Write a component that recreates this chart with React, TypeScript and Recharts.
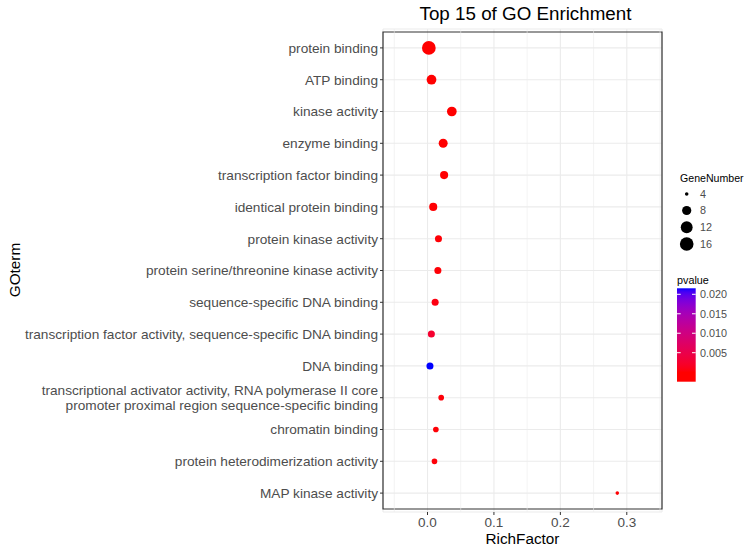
import React from 'react';
import {
  ScatterChart,
  Scatter,
  XAxis,
  YAxis,
  ZAxis,
  CartesianGrid,
  Cell,
  ReferenceLine,
  ReferenceArea,
} from 'recharts';

const terms = [
  'protein binding',
  'ATP binding',
  'kinase activity',
  'enzyme binding',
  'transcription factor binding',
  'identical protein binding',
  'protein kinase activity',
  'protein serine/threonine kinase activity',
  'sequence-specific DNA binding',
  'transcription factor activity, sequence-specific DNA binding',
  'DNA binding',
  'transcriptional activator activity, RNA polymerase II core\npromoter proximal region sequence-specific binding',
  'chromatin binding',
  'protein heterodimerization activity',
  'MAP kinase activity',
];
const richFactor = [0.002, 0.006, 0.0366, 0.0236, 0.025, 0.0086, 0.0165, 0.0156, 0.0115, 0.0058, 0.0037, 0.0206, 0.0126, 0.0105, 0.2857];
const geneNumber = [17, 9, 9, 8, 7, 7, 6, 6, 6, 6, 6, 5, 5, 5, 4];
const pValue = [1e-9, 2e-5, 1e-5, 4e-5, 6e-5, 1e-4, 2e-4, 2e-4, 6e-4, 0.0025, 0.0215, 3e-4, 2e-4, 3e-4, 1e-4];

const xTicks = [0, 0.1, 0.2, 0.3];
const xMinorTicks = [-0.05, 0.05, 0.15, 0.25, 0.35];
const xDomain: [number, number] = [-0.067, 0.353];
const sizeLegendValues = [4, 8, 12, 16];
const pLegendTicks = [0.02, 0.015, 0.01, 0.005];
const zDomain: [number, number] = [4, 16];
const zRange: [number, number] = [10, 147];

const data = terms.map((t, i) => ({ term: t, rich: richFactor[i], genes: geneNumber[i], p: pValue[i] }));

// ---- colour scale: red (low) -> blue (high), interpolated in Lab ----
const toLin = (c: number) => {
  const v = c / 255;
  return v <= 0.04045 ? v / 12.92 : Math.pow((v + 0.055) / 1.055, 2.4);
};
const fromLin = (v: number) => {
  const c = Math.min(1, Math.max(0, v));
  const s = c <= 0.0031308 ? 12.92 * c : 1.055 * Math.pow(c, 1 / 2.4) - 0.055;
  return Math.round(Math.min(1, Math.max(0, s)) * 255);
};
const Xn = 0.95047, Yn = 1, Zn = 1.08883;
const fLab = (t: number) => (t > 216 / 24389 ? Math.cbrt(t) : ((24389 / 27) * t + 16) / 116);
const fInv = (t: number) => (t * t * t > 216 / 24389 ? t * t * t : (116 * t - 16) / (24389 / 27));
function rgbToLab(r: number, g: number, b: number) {
  const R = toLin(r), G = toLin(g), B = toLin(b);
  const X = 0.4124 * R + 0.3576 * G + 0.1805 * B;
  const Y = 0.2126 * R + 0.7152 * G + 0.0722 * B;
  const Z = 0.0193 * R + 0.1192 * G + 0.9505 * B;
  const fx = fLab(X / Xn), fy = fLab(Y / Yn), fz = fLab(Z / Zn);
  return [116 * fy - 16, 500 * (fx - fy), 200 * (fy - fz)];
}
function labToRgb(L: number, a: number, b: number) {
  const fy = (L + 16) / 116, fx = fy + a / 500, fz = fy - b / 200;
  const X = Xn * fInv(fx), Y = Yn * fInv(fy), Z = Zn * fInv(fz);
  const R = 3.2406 * X - 1.5372 * Y - 0.4986 * Z;
  const G = -0.9689 * X + 1.8758 * Y + 0.0415 * Z;
  const B = 0.0557 * X - 0.204 * Y + 1.057 * Z;
  return `rgb(${fromLin(R)},${fromLin(G)},${fromLin(B)})`;
}
const labLow = rgbToLab(255, 0, 0);
const labHigh = rgbToLab(0, 0, 255);
const pMin = Math.min(...pValue);
const pMax = Math.max(...pValue);
function colorFor(p: number) {
  const t = Math.min(1, Math.max(0, (p - pMin) / (pMax - pMin)));
  return labToRgb(
    labLow[0] + (labHigh[0] - labLow[0]) * t,
    labLow[1] + (labHigh[1] - labLow[1]) * t,
    labLow[2] + (labHigh[2] - labLow[2]) * t
  );
}
// same sqrt scale as the ZAxis (area in px^2), used for the size legend
const radiusFor = (n: number) => {
  const s0 = Math.sqrt(zDomain[0]), s1 = Math.sqrt(zDomain[1]);
  const area = zRange[0] + ((Math.sqrt(n) - s0) / (s1 - s0)) * (zRange[1] - zRange[0]);
  return Math.sqrt(Math.max(area, 0) / Math.PI);
};

const FONT = '"Liberation Sans", Arial, Helvetica, sans-serif';
const TEXT = '#4D4D4D';

const YTick = (props: any) => {
  const { x, y, payload } = props;
  const lines = String(payload.value).split('\n');
  const lh = 15.5;
  return (
    <text x={x} y={y} textAnchor="end" fill={TEXT} fontSize={13.65} fontFamily={FONT}>
      {lines.map((l, i) => (
        <tspan key={i} x={x} dy={i === 0 ? -((lines.length - 1) * lh) / 2 + 4.8 : lh}>
          {l}
        </tspan>
      ))}
    </text>
  );
};

// legend bar geometry
const barX = 677, barW = 18.7, barTop = 288.3, barBottom = 381.7;
const yOfP = (v: number) => 352.7 - (v - 0.005) * 3893;
const pOfY = (y: number) => 0.005 + (352.7 - y) / 3893;

export default function App() {
  const stops = Array.from({ length: 41 }, (_, i) => {
    const y = barTop + ((barBottom - barTop) * i) / 40;
    const p = Math.min(pMax, Math.max(pMin, pOfY(y)));
    return { off: i / 40, color: colorFor(p) };
  });
  const legendY = [194, 210.5, 227.3, 244];
  return (
    <div style={{ position: 'absolute', left: 0, top: 0, width: 744, height: 549, background: '#fff', fontFamily: FONT }}>
      <ScatterChart width={744} height={549} margin={{ top: 29, right: 82, bottom: 0, left: 0 }}>
        <CartesianGrid stroke="#EBEBEB" strokeWidth={1.1} />
        {xMinorTicks.map((v) => (
          <ReferenceLine key={v} x={v} stroke="#EBEBEB" strokeWidth={0.6} />
        ))}
        <XAxis
          type="number"
          dataKey="rich"
          domain={xDomain}
          allowDataOverflow
          ticks={xTicks}
          tickFormatter={(v: number) => v.toFixed(1)}
          height={37}
          tickSize={3}
          tickMargin={2}
          axisLine={false}
          tickLine={{ stroke: '#333333' }}
          tick={{ fill: TEXT, fontSize: 13.5, fontFamily: FONT }}
        />
        <YAxis
          type="category"
          dataKey="term"
          allowDuplicatedCategory={false}
          reversed
          width={383}
          padding={{ top: 3, bottom: 3 }}
          tickSize={3}
          tickMargin={2}
          axisLine={false}
          tickLine={{ stroke: '#333333' }}
          tick={<YTick />}
          interval={0}
        />
        <ZAxis type="number" dataKey="genes" scale="sqrt" domain={zDomain} range={zRange} />
        <ReferenceArea x1={xDomain[0]} x2={xDomain[1]} fill="none" stroke="#333333" strokeWidth={1.2} fillOpacity={0} />
        <Scatter data={data} isAnimationActive={false}>
          {data.map((d, i) => (
            <Cell key={i} fill={colorFor(d.p)} />
          ))}
        </Scatter>
      </ScatterChart>
      <svg width={744} height={549} style={{ position: 'absolute', left: 0, top: 0, pointerEvents: 'none' }}>
        <text x={525.5} y={20} textAnchor="middle" fontSize={18.8} fill="#000" fontFamily={FONT}>
          Top 15 of GO Enrichment
        </text>
        <text x={522.5} y={543.5} textAnchor="middle" fontSize={15.3} fill="#000" fontFamily={FONT}>
          RichFactor
        </text>
        <text x={20} y={270} textAnchor="middle" fontSize={15.3} fill="#000" fontFamily={FONT} transform="rotate(-90 20 270)">
          GOterm
        </text>
        <text x={680} y={182} fontSize={10.6} fill="#000" fontFamily={FONT}>
          GeneNumber
        </text>
        {sizeLegendValues.map((n, i) => (
          <g key={n}>
            <circle cx={686.7} cy={legendY[i]} r={radiusFor(n)} fill="#000" />
            <text x={700} y={legendY[i] + 3.8} fontSize={10.8} fill={TEXT} fontFamily={FONT}>
              {n}
            </text>
          </g>
        ))}
        <text x={677} y={284} fontSize={10.8} fill="#000" fontFamily={FONT}>
          pvalue
        </text>
        <defs>
          <linearGradient id="pgrad" x1="0" y1="0" x2="0" y2="1">
            {stops.map((s, i) => (
              <stop key={i} offset={s.off} stopColor={s.color} />
            ))}
          </linearGradient>
        </defs>
        <rect x={barX} y={barTop} width={barW} height={barBottom - barTop} fill="url(#pgrad)" />
        {pLegendTicks.map((v) => (
          <g key={v}>
            <line x1={barX} x2={barX + 3.7} y1={yOfP(v)} y2={yOfP(v)} stroke="#fff" strokeWidth={1} />
            <line x1={barX + barW - 3.7} x2={barX + barW} y1={yOfP(v)} y2={yOfP(v)} stroke="#fff" strokeWidth={1} />
            <text x={700} y={yOfP(v) + 3.8} fontSize={10.8} fill={TEXT} fontFamily={FONT}>
              {v.toFixed(3)}
            </text>
          </g>
        ))}
      </svg>
    </div>
  );
}
